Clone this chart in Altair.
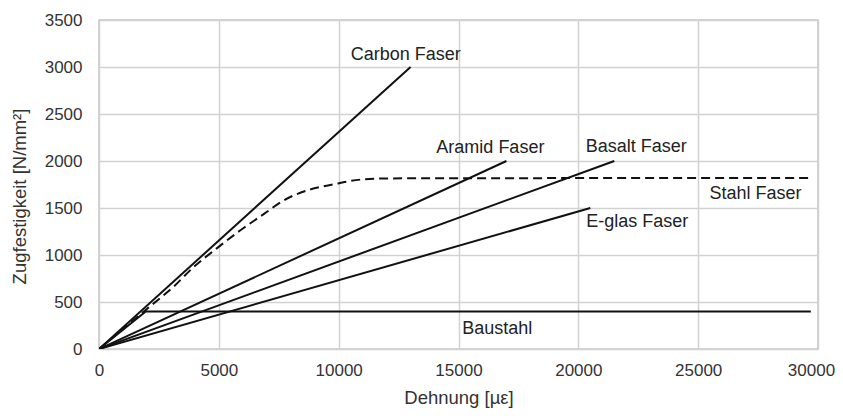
import altair as alt
import pandas as pd

# Series data (strain in µε, strength in N/mm²)
carbon_x = [0, 13000]
carbon_y = [0, 3000]
aramid_x = [0, 17000]
aramid_y = [0, 2000]
basalt_x = [0, 21500]
basalt_y = [0, 2000]
eglas_x = [0, 20500]
eglas_y = [0, 1500]
baustahl_x = [0, 1950, 29700]
baustahl_y = [0, 400, 400]
stahl_x = [0, 2100, 3100, 3950, 4900, 5900, 6900, 7700, 8700, 9800, 10900, 12000, 29700]
stahl_y = [0, 447, 660, 872, 1068, 1263, 1440, 1580, 1688, 1752, 1802, 1815, 1820]

# Annotation labels
label_text = ["Carbon Faser", "Aramid Faser", "Basalt Faser", "Stahl Faser", "E-glas Faser", "Baustahl"]
label_x = [12800, 16330, 22420, 27390, 22460, 16620]
label_y = [3124, 2135, 2145, 1645, 1347, 210]

x_ticks = [0, 5000, 10000, 15000, 20000, 25000, 30000]
y_ticks = [0, 500, 1000, 1500, 2000, 2500, 3000, 3500]

rows = []
for name, xs, ys in [("Carbon", carbon_x, carbon_y), ("Aramid", aramid_x, aramid_y),
                     ("Basalt", basalt_x, basalt_y), ("E-glas", eglas_x, eglas_y),
                     ("Baustahl", baustahl_x, baustahl_y), ("Stahl", stahl_x, stahl_y)]:
    for i, (a, b) in enumerate(zip(xs, ys)):
        rows.append({"series": name, "x": a, "y": b, "order": i})
df = pd.DataFrame(rows)
labels = pd.DataFrame({"text": label_text, "x": label_x, "y": label_y})

FONT = "Liberation Sans"

xscale = alt.Scale(domain=[0, 30000], nice=False)
yscale = alt.Scale(domain=[0, 3500], nice=False)

base = alt.Chart(df)
solid = base.transform_filter(alt.datum.series != "Stahl").mark_line(
    color="#111111", strokeWidth=2, clip=True
).encode(
    x=alt.X("x:Q", scale=xscale,
            axis=alt.Axis(values=x_ticks, title="Dehnung [µε]", format="d",
                          grid=True, gridColor="#d2d2d2", gridWidth=1.5,
                          domain=False, ticks=False, labelPadding=13,
                          labelFontSize=17, labelColor="#333333", labelFont=FONT,
                          labelFlush=False,
                          labelOffset={"condition": {"test": "datum.value == 30000", "value": -7}, "value": 0},
                          titleFont=FONT, titleFontSize=18.5, titleFontWeight="normal",
                          titleColor="#333333", titlePadding=10)),
    y=alt.Y("y:Q", scale=yscale,
            axis=alt.Axis(values=y_ticks, title="Zugfestigkeit [N/mm²]", format="d",
                          grid=True, gridColor="#d2d2d2", gridWidth=1.5,
                          domain=False, ticks=False, labelPadding=17,
                          labelFontSize=17, labelColor="#333333", labelFont=FONT,
                          titleFont=FONT, titleFontSize=18.5, titleFontWeight="normal",
                          titleColor="#333333", titlePadding=15, titleY=176)),
    detail="series:N",
    order="order:Q",
)
dashed = base.transform_filter(alt.datum.series == "Stahl").mark_line(
    color="#111111", strokeWidth=2, strokeDash=[9, 5], clip=True, interpolate="monotone"
).encode(
    x=alt.X("x:Q", scale=xscale),
    y=alt.Y("y:Q", scale=yscale),
    order="order:Q",
)
text = alt.Chart(labels).mark_text(
    font=FONT, fontSize=18, color="#222222", align="center", baseline="middle"
).encode(
    x=alt.X("x:Q", scale=xscale),
    y=alt.Y("y:Q", scale=yscale),
    text="text:N",
)

chart = alt.layer(solid, dashed, text).properties(
    width=719, height=329,
    autosize=alt.AutoSizeParams(type="none"),
    padding={"left": 91, "top": 12, "right": 17, "bottom": 59},
    background="white",
).configure_view(stroke="#c4c4c4", strokeWidth=1.5)

chart.save("out.html", embed_options={"renderer": "svg", "actions": False})
